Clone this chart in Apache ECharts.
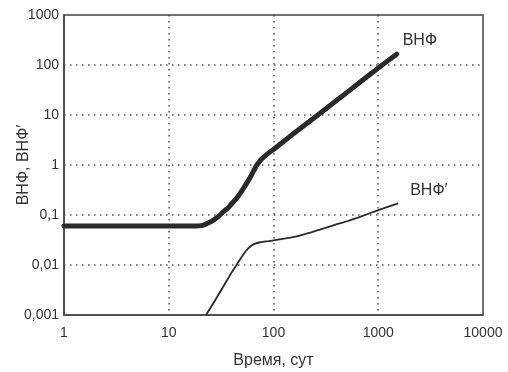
<!DOCTYPE html>
<html>
<head>
<meta charset="utf-8">
<script src="https://cdn.jsdelivr.net/npm/echarts@6/dist/echarts.min.js"></script>
<style>
html,body{margin:0;padding:0;background:#fff;}
#chart{width:508px;height:372px;}
</style>
</head>
<body>
<div id="chart"></div>
<script>
// Time (days) and values
const vnfDays   = [1, 10, 18, 21, 24, 27, 30, 33, 37, 40, 44, 48, 52, 56, 60, 65, 69, 74, 80, 90, 100, 143, 240, 500, 1000, 1500];
const vnfValues = [0.06, 0.06, 0.06, 0.062, 0.07, 0.08, 0.095, 0.115, 0.14, 0.17, 0.21, 0.27, 0.35, 0.45, 0.57, 0.78, 0.98, 1.2, 1.42, 1.75, 2.05, 3.7, 8.5, 28, 87, 165];

const vnfPrimeDays   = [22.7, 30, 40, 45, 50, 55, 60, 66, 75, 90, 100, 130, 170, 220, 277, 380, 505, 700, 1000, 1550];
const vnfPrimeValues = [0.001, 0.0026, 0.0072, 0.0105, 0.0148, 0.0195, 0.0235, 0.0265, 0.0285, 0.030, 0.031, 0.034, 0.038, 0.044, 0.051, 0.063, 0.075, 0.095, 0.125, 0.17];

const xTickLabels = ['1', '10', '100', '1000', '10000'];
const yTickLabels = ['0,001', '0,01', '0,1', '1', '10', '100', '1000'];

const seriesNames = ['ВНФ', 'ВНФ′'];
const xTitle = 'Время, сут';
const yTitle = 'ВНФ, ВНФ′';

const FONT = 'Liberation Sans, Arial, sans-serif';
const TXT = '#333';

function zip(xs, ys) { return xs.map((x, i) => [x, ys[i]]); }

const chart = echarts.init(document.getElementById('chart'), null, {renderer: 'canvas'});
chart.setOption({
  animation: false,
  backgroundColor: '#fff',
  grid: {
    left: 64, top: 15, right: 25, bottom: 57,
    containLabel: false, outerBoundsMode: 'none',
    show: true, borderColor: '#444', borderWidth: 1.5, backgroundColor: 'transparent'
  },
  xAxis: {
    type: 'log', logBase: 10, min: 1, max: 10000,
    name: xTitle, nameLocation: 'middle', nameGap: 38, nameMoveOverlap: false,
    nameTextStyle: {fontFamily: FONT, fontSize: 16, color: TXT},
    axisLine: {show: true, lineStyle: {color: '#444', width: 1.5}},
    axisTick: {show: false},
    minorTick: {show: false},
    axisLabel: {
      fontFamily: FONT, fontSize: 14, color: TXT, margin: 11,
      formatter: v => xTickLabels[Math.round(Math.log10(v))]
    },
    splitLine: {show: true, showMinLine: false, showMaxLine: false,
      lineStyle: {color: '#555', width: 1.5, type: [1.5, 4.5]}}
  },
  yAxis: {
    type: 'log', logBase: 10, min: 0.001, max: 1000,
    name: yTitle, nameLocation: 'middle', nameGap: 32, nameMoveOverlap: false,
    nameTextStyle: {fontFamily: FONT, fontSize: 16, color: TXT},
    axisLine: {show: true, lineStyle: {color: '#444', width: 1.5}},
    axisTick: {show: false},
    minorTick: {show: false},
    axisLabel: {
      fontFamily: FONT, fontSize: 14, color: TXT, margin: 5,
      formatter: v => yTickLabels[Math.round(Math.log10(v)) + 3]
    },
    splitLine: {show: true, showMinLine: false, showMaxLine: false,
      lineStyle: {color: '#555', width: 1.5, type: [1.5, 4.5]}}
  },
  series: [
    {
      name: seriesNames[0], type: 'line', data: zip(vnfDays, vnfValues),
      showSymbol: false, smooth: 0.2, clip: true,
      lineStyle: {color: '#2a2a2a', width: 5, cap: 'round'},
      endLabel: {show: true, formatter: seriesNames[0], fontFamily: FONT, fontSize: 16,
        color: TXT, align: 'left', verticalAlign: 'middle', offset: [-2, -14]}
    },
    {
      name: seriesNames[1], type: 'line', data: zip(vnfPrimeDays, vnfPrimeValues),
      showSymbol: false, smooth: 0.2, clip: true,
      lineStyle: {color: '#2a2a2a', width: 1.8},
      endLabel: {show: true, formatter: seriesNames[1], fontFamily: FONT, fontSize: 16,
        color: TXT, align: 'left', verticalAlign: 'middle', offset: [4, -13]}
    }
  ]
});
</script>
</body>
</html>
